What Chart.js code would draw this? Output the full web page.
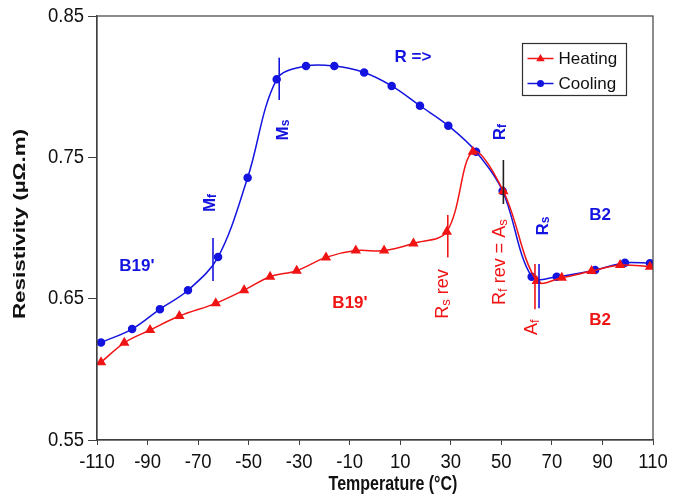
<!DOCTYPE html>
<html><head><meta charset="utf-8">
<script src="https://cdn.jsdelivr.net/npm/chart.js@4/dist/chart.umd.min.js"></script>
<style>html,body{margin:0;padding:0;background:#fff}#wrap{width:677px;height:497px;position:relative}</style>
</head><body><div id="wrap"><canvas id="c"></canvas></div>
<script>
// ---- data ----
const heatingT = [-108.4, -99.2, -89.0, -77.4, -63.0, -51.8, -41.5, -31.0, -19.4, -7.6, 3.6, 15.2, 28.4, 38.7, 50.8, 64.0, 73.9, 85.7, 97.0, 108.8];
const heatingR = [0.605, 0.6188, 0.6278, 0.6377, 0.6467, 0.656, 0.6655, 0.6698, 0.6792, 0.684, 0.684, 0.6891, 0.6974, 0.754, 0.726, 0.6625, 0.6648, 0.6695, 0.6738, 0.6726];
const coolingT = [-108.4, -96.1, -85.1, -74.0, -62.1, -50.4, -38.9, -27.3, -16.1, -4.3, 6.6, 17.8, 29.0, 40.0, 50.5, 62.0, 71.9, 87.1, 98.9, 108.8];
const coolingR = [0.619, 0.6285, 0.6426, 0.656, 0.6794, 0.7356, 0.8052, 0.8146, 0.8146, 0.810, 0.8005, 0.7865, 0.7724, 0.754, 0.7262, 0.6655, 0.6655, 0.6702, 0.6754, 0.675];
const xTicks = [-110, -90, -70, -50, -30, -10, 10, 30, 50, 70, 90, 110];
const yTicks = [0.55, 0.65, 0.75, 0.85];
const seriesNames = ['Heating', 'Cooling'];
const xTitle = 'Temperature (°C)';
const yTitle = 'Resistivity (µΩ.m)';

// transition markers (temperature, resistivity range), in data units
const markerT  = [-64.1, -37.9, 28.8, 50.8, 63.3, 64.9];
const markerR0 = [0.6625, 0.7906, 0.6792, 0.717, 0.6426, 0.6433];
const markerR1 = [0.6929, 0.8205, 0.7092, 0.7481, 0.6745, 0.6745];
const markerKind = ['c', 'c', 'h', 'k', 'h', 'c'];

const BLUE = '#1414e0', RED = '#f01414', AXIS = '#404040';
const FONT = '"Liberation Sans", Arial, sans-serif';
const STRETCH = 1.22; // the reference's text is taller than it is wide

const notes = [
  {seg: [['R =>']], t: 15.0, r: 0.821, c: 'c', rot: false, bold: true, size: 17},
  {seg: [['M'], ['f', 1]], t: -65.3, r: 0.7177, c: 'c', rot: true, bold: true, size: 17},
  {seg: [['M'], ['s', 1]], t: -36.4, r: 0.7693, c: 'c', rot: true, bold: true, size: 17},
  {seg: [['R'], ['f', 1]], t: 49.5, r: 0.7679, c: 'c', rot: true, bold: true, size: 17},
  {seg: [['R'], ['s', 1]], t: 66.5, r: 0.7014, c: 'c', rot: true, bold: true, size: 17},
  {seg: [['B2']], t: 89.05, r: 0.7092, c: 'c', rot: false, bold: true, size: 17},
  {seg: [["B19'"]], t: -94.2, r: 0.673, c: 'c', rot: false, bold: true, size: 17},
  {seg: [["B19'"]], t: -9.9, r: 0.6469, c: 'h', rot: false, bold: true, size: 17},
  {seg: [['R'], ['s', 1], [' rev']], t: 26.9, r: 0.6533, c: 'h', rot: true, bold: false, size: 18},
  {seg: [['R'], ['f', 1], [' rev = A'], ['s', 1]], t: 49.5, r: 0.6759, c: 'h', rot: true, bold: false, size: 18},
  {seg: [['A'], ['f', 1]], t: 62.1, r: 0.6299, c: 'h', rot: true, bold: false, size: 18},
  {seg: [['B2']], t: 89.05, r: 0.6349, c: 'h', rot: false, bold: true, size: 17}
];

function pts(xs, ys) { return xs.map((x, i) => ({x: x, y: ys[i]})); }
function colorOf(k) { return k === 'c' ? BLUE : (k === 'h' ? RED : '#202020'); }

function drawTriangle(ctx, x, y, r) {
  ctx.beginPath();
  ctx.moveTo(x, y - r);
  ctx.lineTo(x + r * 0.95, y + r * 0.6);
  ctx.lineTo(x - r * 0.95, y + r * 0.6);
  ctx.closePath();
  ctx.fill();
}

function drawSegText(ctx, segs, bold, size) {
  const big = (bold ? 'bold ' : '') + size + 'px ' + FONT;
  const small = (bold ? 'bold ' : '') + Math.round(size * 0.72) + 'px ' + FONT;
  let w = 0;
  segs.forEach(s => { ctx.font = s[1] ? small : big; w += ctx.measureText(s[0]).width; });
  let x = -w / 2;
  ctx.textBaseline = 'middle';
  ctx.textAlign = 'left';
  segs.forEach(s => {
    ctx.font = s[1] ? small : big;
    ctx.fillText(s[0], x, s[1] ? 3 : 0);
    x += ctx.measureText(s[0]).width;
  });
}

// text with a stretch along (sx) and across (sy) its own direction
function stretchedText(ctx, text, x, y, align, rot, sx, sy) {
  ctx.save();
  ctx.translate(x, y);
  if (rot) ctx.rotate(-Math.PI / 2);
  ctx.scale(sx, sy);
  ctx.textAlign = align; ctx.textBaseline = 'middle';
  ctx.fillText(text, 0, 0);
  ctx.restore();
}

const overlay = {
  id: 'overlay',
  afterDatasetsDraw(chart) {
    const ctx = chart.ctx, a = chart.chartArea;
    const xs = chart.scales.x, ys = chart.scales.y;
    ctx.save();
    // plot frame
    ctx.strokeStyle = AXIS; ctx.lineWidth = 1.2;
    ctx.strokeRect(a.left, a.top, a.right - a.left, a.bottom - a.top);
    // tick labels
    ctx.fillStyle = '#111';
    ctx.font = '18.5px ' + FONT;
    xTicks.forEach(v => stretchedText(ctx, String(v), xs.getPixelForValue(v), a.bottom + 22, 'center', false, 1, 1.12));
    yTicks.forEach(v => stretchedText(ctx, v.toFixed(2), a.left - 13, ys.getPixelForValue(v), 'right', false, 1, 1.12));
    // axis titles
    ctx.font = 'bold 16px ' + FONT;
    stretchedText(ctx, xTitle, (a.left + a.right) / 2 + 18, 485, 'center', false, 1, STRETCH);
    ctx.font = 'bold 16px ' + FONT;
    stretchedText(ctx, yTitle, 21, (a.top + a.bottom) / 2 - 4, 'center', true, 1.4, 1);
    // transition markers
    markerT.forEach((t, i) => {
      const x = xs.getPixelForValue(t);
      ctx.strokeStyle = colorOf(markerKind[i]);
      ctx.lineWidth = 1.6;
      ctx.beginPath();
      ctx.moveTo(x, ys.getPixelForValue(markerR0[i]));
      ctx.lineTo(x, ys.getPixelForValue(markerR1[i]));
      ctx.stroke();
    });
    // labels
    notes.forEach(n => {
      ctx.save();
      ctx.fillStyle = colorOf(n.c);
      ctx.translate(xs.getPixelForValue(n.t), ys.getPixelForValue(n.r));
      if (n.rot) ctx.rotate(-Math.PI / 2);
      drawSegText(ctx, n.seg, n.bold, n.size);
      ctx.restore();
    });
    // legend
    const lx = 522.5, ly = 43.5, lw = 104, lh = 52;
    ctx.fillStyle = '#fff';
    ctx.fillRect(lx, ly, lw, lh);
    ctx.strokeStyle = '#303030'; ctx.lineWidth = 1.2;
    ctx.strokeRect(lx, ly, lw, lh);
    chart.data.datasets.forEach((ds, i) => {
      const yy = ly + 15 + i * 25;
      ctx.strokeStyle = ds.borderColor; ctx.lineWidth = 1.5;
      ctx.beginPath(); ctx.moveTo(lx + 5, yy); ctx.lineTo(lx + 31, yy); ctx.stroke();
      ctx.fillStyle = ds.borderColor;
      if (ds.pointStyle === 'triangle') drawTriangle(ctx, lx + 18, yy, 4.5);
      else { ctx.beginPath(); ctx.arc(lx + 18, yy, 3.5, 0, Math.PI * 2); ctx.fill(); }
      ctx.fillStyle = '#111';
      ctx.font = '17px ' + FONT;
      ctx.textAlign = 'left'; ctx.textBaseline = 'middle';
      ctx.fillText(ds.label, lx + 36, yy + 1);
    });
    ctx.restore();
  }
};

new Chart(document.getElementById('c'), {
  type: 'line',
  data: {
    datasets: [
      {label: seriesNames[0], data: pts(heatingT, heatingR), borderColor: RED, backgroundColor: RED,
       pointStyle: 'triangle', pointRadius: 4.5, borderWidth: 1.5, tension: 0.35, fill: false},
      {label: seriesNames[1], data: pts(coolingT, coolingR), borderColor: BLUE, backgroundColor: BLUE,
       pointStyle: 'circle', pointRadius: 3.5, borderWidth: 1.5, tension: 0.35, fill: false}
    ]
  },
  options: {
    responsive: true, maintainAspectRatio: false, animation: false,
    layout: {padding: {left: 0, top: 16, right: 24, bottom: 0}},
    plugins: {legend: {display: false}, tooltip: {enabled: false}},
    scales: {
      x: {
        type: 'linear', min: -110, max: 110,
        afterBuildTicks: s => { s.ticks = xTicks.map(v => ({value: v})); },
        afterFit: s => { s.height = 57; },
        ticks: {display: false},
        grid: {drawOnChartArea: false, drawTicks: true, tickLength: 5, color: AXIS},
        border: {color: AXIS, width: 1.2},
        title: {display: false}
      },
      y: {
        type: 'linear', min: 0.55, max: 0.85,
        afterBuildTicks: s => { s.ticks = yTicks.map(v => ({value: v})); },
        afterFit: s => { s.width = 97; },
        ticks: {display: false},
        grid: {drawOnChartArea: false, drawTicks: true, tickLength: 9, color: AXIS},
        border: {color: AXIS, width: 1.2},
        title: {display: false}
      }
    }
  },
  plugins: [overlay]
});
</script>
</body></html>
